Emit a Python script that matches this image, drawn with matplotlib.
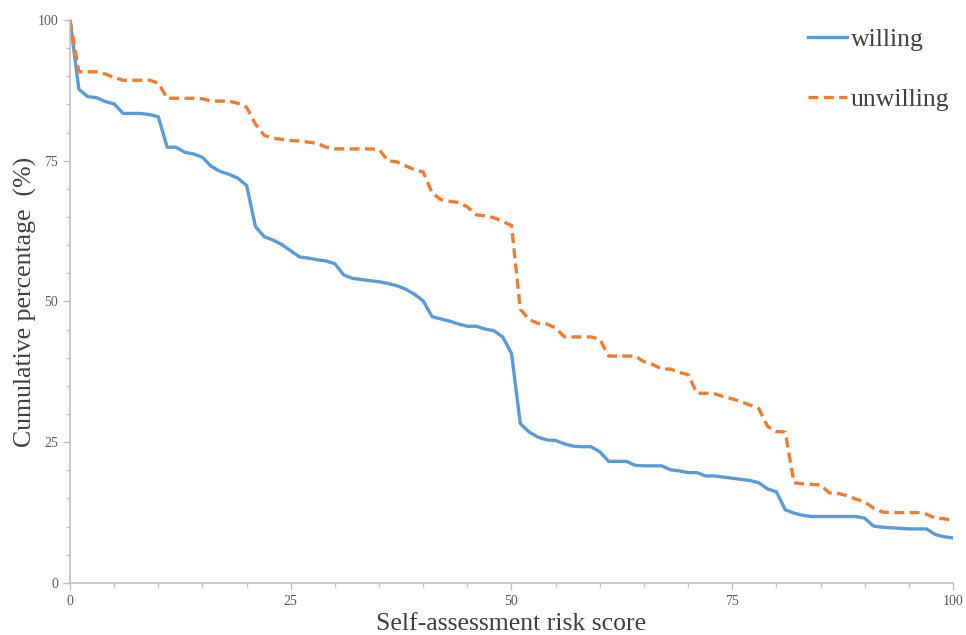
import matplotlib.pyplot as plt
import numpy as np
from matplotlib.ticker import MultipleLocator

plt.rcParams['font.family'] = ['Liberation Serif', 'DejaVu Serif']

score = np.arange(0, 101)

willing = [100, 87.7, 86.4, 86.2, 85.5, 85.1, 83.4, 83.4, 83.4, 83.2,
           82.8, 77.4, 77.4, 76.5, 76.2, 75.6, 74.0, 73.1, 72.6, 71.9,
           70.6, 63.3, 61.5, 60.9, 60.1, 59.0, 57.9, 57.7, 57.4, 57.2,
           56.7, 54.7, 54.1, 53.9, 53.7, 53.5, 53.2, 52.8, 52.2, 51.3,
           50.1, 47.3, 46.9, 46.5, 46.0, 45.6, 45.6, 45.1, 44.8, 43.7,
           40.8, 28.3, 26.8, 25.9, 25.4, 25.3, 24.7, 24.3, 24.2, 24.2,
           23.3, 21.6, 21.6, 21.6, 20.9, 20.8, 20.8, 20.8, 20.1, 19.9,
           19.6, 19.6, 19.0, 19.0, 18.8, 18.6, 18.4, 18.2, 17.8, 16.7,
           16.2, 13.0, 12.4, 12.0, 11.8, 11.8, 11.8, 11.8, 11.8, 11.8,
           11.5, 10.1, 9.9, 9.8, 9.7, 9.6, 9.6, 9.6, 8.6, 8.2,
           8.0]

unwilling = [100, 90.8, 90.8, 90.8, 90.4, 89.8, 89.3, 89.3, 89.3, 89.3,
             88.8, 86.1, 86.1, 86.1, 86.1, 86.0, 85.6, 85.6, 85.6, 85.2,
             84.5, 81.5, 79.5, 79.0, 78.8, 78.6, 78.5, 78.3, 78.1, 77.4,
             77.1, 77.1, 77.1, 77.1, 77.1, 77.0, 75.0, 74.8, 74.1, 73.4,
             73.0, 69.3, 68.1, 67.8, 67.6, 66.8, 65.4, 65.2, 64.9, 64.2,
             63.5, 48.6, 46.8, 46.1, 46.0, 45.3, 43.7, 43.7, 43.7, 43.7,
             43.3, 40.3, 40.3, 40.3, 40.3, 39.3, 38.8, 38.0, 38.0, 37.4,
             37.0, 33.7, 33.7, 33.6, 33.1, 32.7, 32.2, 31.6, 31.0, 27.8,
             26.9, 26.8, 17.8, 17.6, 17.5, 17.4, 16.0, 15.9, 15.5, 14.9,
             14.4, 13.3, 12.6, 12.5, 12.5, 12.5, 12.5, 12.2, 11.5, 11.4,
             11.1]

fig = plt.figure(figsize=(9.66, 6.35), dpi=100)
ax = fig.add_axes([0.0725, 0.082, 0.914, 0.8865])

ax.plot(score, willing, color='#5B9BD5', lw=2.4, label='willing')
ax.plot(score, unwilling, color='#ED7D31', lw=2.4, ls=(0, (3, 1.6)), label='unwilling')

ax.set_xlim(0, 100)
ax.set_ylim(0, 100)
ax.xaxis.set_major_locator(MultipleLocator(25))
ax.xaxis.set_minor_locator(MultipleLocator(5))
ax.yaxis.set_major_locator(MultipleLocator(25))
ax.yaxis.set_minor_locator(MultipleLocator(5))

for s in ['top', 'right']:
    ax.spines[s].set_visible(False)
for s in ['left', 'bottom']:
    ax.spines[s].set_color('#BFBFBF')
    ax.spines[s].set_linewidth(1.2)

ax.tick_params(which='major', direction='out', length=5, width=1, color='#BFBFBF',
               labelsize=10, labelcolor='#595959')
ax.tick_params(which='minor', direction='out', length=3, width=1, color='#BFBFBF')

ax.set_xlabel('Self-assessment risk score', fontsize=18.5, color='#404040', labelpad=4)
ax.set_ylabel('Cumulative percentage  (%)', fontsize=18.5, color='#404040', labelpad=0)

leg = ax.legend(loc='upper right', bbox_to_anchor=(1.022, 1.027), frameon=False,
                fontsize=18.5, handlelength=1.5, handletextpad=0.15, labelspacing=1.45)
for t in leg.get_texts():
    t.set_color('#404040')

fig.savefig('out.png', dpi=100)
plt.close()
